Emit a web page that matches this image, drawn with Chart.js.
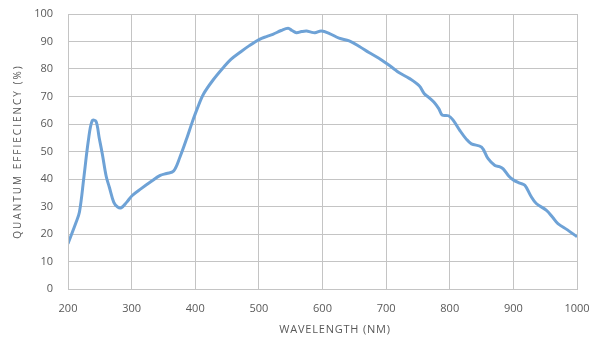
<!DOCTYPE html>
<html>
<head>
<meta charset="utf-8">
<script src="https://cdn.jsdelivr.net/npm/chart.js@4/dist/chart.umd.min.js"></script>
<style>
  html,body{margin:0;padding:0;background:#fff;}
  #wrap{width:595px;height:340px;position:relative;}
</style>
</head>
<body>
<div id="wrap"><canvas id="c" width="595" height="340"></canvas></div>
<script>
const wavelengths = [200,212,218,225,232,238,244,249,254,260,265,272,278,284,292,301,315,330,345,355,366,376,387,395,403,413,428,444,456,470,485,501,512,522,535,546,552,559,567,575,582,588,598,611,626,642,658,673,688,702,711,720,737,752,760,767,775,783,788,798,805,816,826,834,850,860,871,878,884,893,901,910,918,927,936,952,962,970,985,1000];
const efficiency = [16.5,23.8,28,40.7,54,61.2,61,55,49,41,37,31.5,29.8,29.6,31.5,34,36.5,39,41.3,42,42.9,48,55,60.5,65.5,70.9,76,80.5,83.5,86,88.5,90.8,91.8,92.6,94,94.8,94,93.2,93.6,93.8,93.4,93.2,93.8,92.9,91.2,90.2,88.2,86,84,81.8,80.3,78.7,76.5,73.9,71,69.7,68,65.5,63.3,63,61.5,57.6,54.5,52.8,51.6,47.5,44.9,44.5,43.7,41,39.5,38.5,37.7,34,31.1,28.6,26,23.8,21.5,19];
const xTicks = [200,300,400,500,600,700,800,900,1000];
const yTicks = [0,10,20,30,40,50,60,70,80,90,100];
const xTitle = 'WAVELENGTH (NM)';
const yTitle = 'QUANTUM EFFIECIENCY (%)';

const points = wavelengths.map((w,i)=>({x:w,y:efficiency[i]}));
const fontFam = '"Open Sans", "Liberation Sans", sans-serif';
const textColor = '#595959';

new Chart(document.getElementById('c'), {
  type: 'line',
  data: { datasets: [{
    data: points,
    borderColor: '#6ea2d6',
    borderWidth: 3,
    pointRadius: 0,
    tension: 0.35,
    fill: false
  }]},
  options: {
    responsive: false,
    animation: false,
    layout: { padding: { left: 0, right: 18, top: 14, bottom: 0 } },
    plugins: { legend: { display: false }, tooltip: { enabled: false } },
    scales: {
      x: {
        type: 'linear', min: 200, max: 1000,
        afterBuildTicks: s => { s.ticks = xTicks.map(v=>({value:v})); },
        afterFit: s => { s.height = 51; s.paddingLeft = 0; s.paddingRight = 0; },
        grid: { color: '#c4c4c4', lineWidth: 1, drawTicks: false },
        border: { color: '#c4c4c4' },
        ticks: { padding: 13, color: textColor, font: { family: fontFam, size: 11 }, maxRotation: 0, callback: v => String(v) },
        title: { display: false }
      },
      y: {
        min: 0, max: 100,
        afterBuildTicks: s => { s.ticks = yTicks.map(v=>({value:v})); },
        afterFit: s => { s.width = 68; s.paddingTop = 0; s.paddingBottom = 0; },
        grid: { color: '#c4c4c4', lineWidth: 1, drawTicks: false },
        border: { color: '#c4c4c4' },
        ticks: { padding: 15, color: textColor, font: { family: fontFam, size: 11 }, callback: v => String(v) },
        title: { display: false }
      }
    }
  },
  plugins: [{
    id: 'frameAndTitles',
    afterDraw(chart) {
      const a = chart.chartArea, ctx = chart.ctx;
      ctx.save(); ctx.strokeStyle = '#c4c4c4'; ctx.lineWidth = 1;
      ctx.strokeRect(Math.round(a.left)+0.5, Math.round(a.top)+0.5, Math.round(a.right-a.left), Math.round(a.bottom-a.top));
      ctx.restore();
      // axis titles
      ctx.save();
      ctx.fillStyle = textColor;
      ctx.textAlign = 'center';
      ctx.textBaseline = 'middle';
      ctx.font = '11px ' + fontFam;
      ctx.letterSpacing = '0.8px';
      ctx.fillText(xTitle, 335, 330);
      ctx.translate(18, (a.top + a.bottom) / 2);
      ctx.rotate(-Math.PI / 2);
      ctx.font = '10px ' + fontFam;
      ctx.letterSpacing = '2px';
      ctx.fillText(yTitle, 0, 0);
      ctx.restore();
    }
  }]
});
</script>
</body>
</html>
